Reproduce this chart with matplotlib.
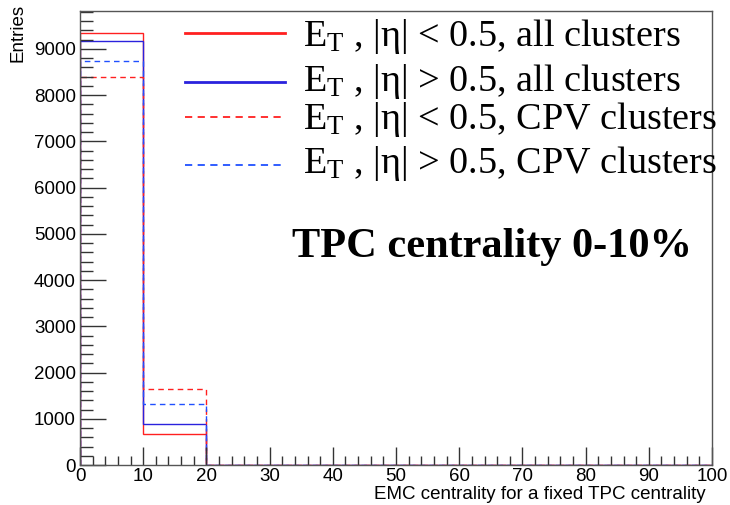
import numpy as np
import matplotlib.pyplot as plt
from matplotlib.ticker import MultipleLocator

plt.rcParams['mathtext.fontset'] = 'custom'
plt.rcParams['mathtext.rm'] = 'Liberation Serif'
plt.rcParams['mathtext.it'] = 'Liberation Serif:italic'

# bin edges: EMC centrality 0-100 in steps of 10
edges = np.arange(0, 101, 10)
et_in_all = [9350, 680, 0, 0, 0, 0, 0, 0, 0, 0]
et_out_all = [9170, 876, 0, 0, 0, 0, 0, 0, 0, 0]
et_in_cpv = [8395, 1652, 0, 0, 0, 0, 0, 0, 0, 0]
et_out_cpv = [8735, 1311, 0, 0, 0, 0, 0, 0, 0, 0]

labels = [r'E$_{\rm T}$ , |η| < 0.5, all clusters',
          r'E$_{\rm T}$ , |η| > 0.5, all clusters',
          r'E$_{\rm T}$ , |η| < 0.5, CPV clusters',
          r'E$_{\rm T}$ , |η| > 0.5, CPV clusters']
colors = ['#ff2020', '#2a22dd', '#ff2020', '#2050ff']
styles = ['-', '-', (0, (4, 3)), (0, (4, 3))]
series = [et_in_all, et_out_all, et_in_cpv, et_out_cpv]

fig = plt.figure(figsize=(7.3, 5.05), dpi=100)
ax = fig.add_axes([0.1096, 0.0792, 0.8658, 0.8990])

for vals, c, ls in zip(series, colors, styles):
    ax.stairs(vals, edges, color=c, linestyle=ls, linewidth=1)

ax.set_xlim(0, 100)
ax.set_ylim(0, 9817)

ax.xaxis.set_major_locator(MultipleLocator(10))
ax.xaxis.set_minor_locator(MultipleLocator(2))
ax.yaxis.set_major_locator(MultipleLocator(1000))
ax.yaxis.set_minor_locator(MultipleLocator(200))
ax.tick_params(axis='x', which='major', direction='in', length=13, width=1, color='#333333', labelsize=13.5, pad=2)
ax.tick_params(axis='x', which='minor', direction='in', length=6.5, width=1, color='#333333')
ax.tick_params(axis='y', which='major', direction='in', length=19, width=1, color='#333333', labelsize=13.5, pad=3)
ax.tick_params(axis='y', which='minor', direction='in', length=9.5, width=1, color='#333333')
for lab in ax.get_xticklabels() + ax.get_yticklabels():
    lab.set_family('Liberation Sans')
for s in ax.spines.values():
    s.set_color('#555555')
    s.set_linewidth(1)

fig.text(0.966, 0.004, 'EMC centrality for a fixed TPC centrality', ha='right', va='bottom',
         fontsize=13.5, family='Liberation Sans')
fig.text(0.025, 0.993, 'Entries', ha='center', va='top', rotation=90, fontsize=13.5, family='Liberation Sans')

# legend drawn by hand (ROOT style, no frame)
line_y = [0.952, 0.844, 0.767, 0.661]
text_y = [0.922, 0.823, 0.740, 0.643]
for lab, c, ls, ly, ty in zip(labels, colors, styles, line_y, text_y):
    ax.plot([0.166, 0.324], [ly, ly], transform=ax.transAxes, color=c, linestyle=ls,
            linewidth=2 if ls == '-' else 1.3, clip_on=False)
    ax.text(0.353, ty, lab, transform=ax.transAxes, ha='left', va='baseline',
            fontsize=27.5, family='Liberation Serif', clip_on=False)

ax.text(0.336, 0.48, 'TPC centrality 0-10%', transform=ax.transAxes, ha='left', va='center',
        fontsize=30.5, fontweight='bold', family='Liberation Serif')

fig.savefig('out.png', dpi=100)
